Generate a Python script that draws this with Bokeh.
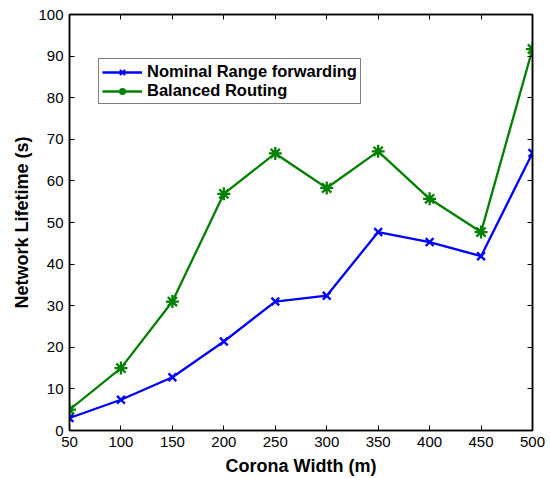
from bokeh.plotting import figure
from bokeh.models import LinearAxis, FixedTicker, Range1d, Legend, LegendItem
from bokeh.embed import file_html
from bokeh.resources import INLINE

widths = [50, 100, 150, 200, 250, 300, 350, 400, 450, 500]
nominal = [3.0, 7.4, 12.8, 21.4, 31.0, 32.4, 47.7, 45.3, 41.9, 66.7]
balanced = [5.0, 15.0, 31.0, 56.9, 66.6, 58.3, 67.1, 55.7, 47.7, 91.7]
x_ticks = [50, 100, 150, 200, 250, 300, 350, 400, 450, 500]
y_ticks = [0, 10, 20, 30, 40, 50, 60, 70, 80, 90, 100]

FONT = "Liberation Sans"

p = figure(width=550, height=478, output_backend="svg", toolbar_location=None,
           x_range=Range1d(50, 500), y_range=Range1d(0, 100),
           min_border_left=69, min_border_right=18, min_border_top=14, min_border_bottom=48)
p.background_fill_color = "white"
p.border_fill_color = "white"
p.outline_line_color = "black"
p.outline_line_width = 1.5
p.xgrid.visible = False
p.ygrid.visible = False

def style_axis(ax, ticks, labels=True):
    ax.ticker = FixedTicker(ticks=ticks)
    ax.major_tick_in = 5
    ax.major_tick_out = 0
    ax.minor_tick_line_color = None
    ax.axis_line_color = "black"
    ax.axis_line_width = 1.5
    ax.major_tick_line_color = "black"
    ax.major_label_text_font = FONT
    ax.major_label_text_font_size = "15px"
    ax.major_label_text_color = "black"
    ax.major_label_standoff = 6
    ax.axis_label_text_font = FONT
    ax.axis_label_text_font_style = "bold"
    ax.axis_label_text_font_size = "18px"
    ax.axis_label_text_color = "black"
    if not labels:
        ax.major_label_overrides = {t: "" for t in ticks}
        ax.major_label_standoff = 0

style_axis(p.xaxis[0], x_ticks)
style_axis(p.yaxis[0], y_ticks)
p.xaxis[0].axis_label = "Corona Width (m)"
p.xaxis[0].axis_label_standoff = 6
p.yaxis[0].axis_label = "Network Lifetime (s)"
p.yaxis[0].axis_label_standoff = 3

top = LinearAxis()
style_axis(top, x_ticks, labels=False)
p.add_layout(top, "above")
right = LinearAxis()
style_axis(right, y_ticks, labels=False)
p.add_layout(right, "right")

BLUE = "#0000FF"
GREEN = "#008000"

l1 = p.line(widths, nominal, line_color=BLUE, line_width=2.3)
m1 = p.scatter(widths, nominal, marker="x", size=11, line_color=BLUE, line_width=2.3)
l2 = p.line(widths, balanced, line_color=GREEN, line_width=2.3)
m2 = p.scatter(widths, balanced, marker="asterisk", size=13, line_color=GREEN, line_width=2.3)

legend = Legend(items=[
    LegendItem(label="Nominal Range forwarding", renderers=[l1, m1]),
    LegendItem(label="Balanced Routing", renderers=[l2, m2]),
], location=(29, 326))
legend.label_text_font = FONT
legend.label_text_font_style = "bold"
legend.label_text_font_size = "16.5px"
legend.label_text_color = "black"
legend.border_line_color = "black"
legend.border_line_width = 1.2
legend.background_fill_alpha = 1.0
legend.glyph_width = 40
legend.glyph_height = 18
legend.label_height = 18
legend.label_standoff = 5
legend.padding = 3
legend.spacing = 0
legend.margin = 0
p.add_layout(legend, "center")

open("out.html", "w").write(file_html(p, INLINE))
